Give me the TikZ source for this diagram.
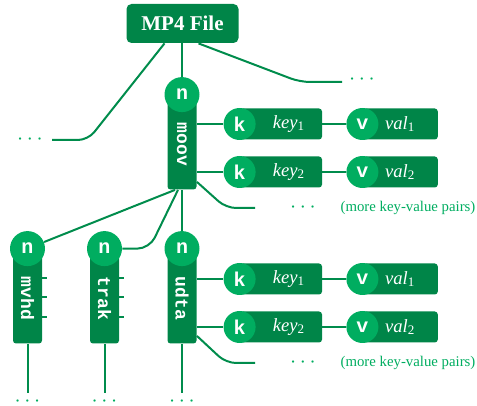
\documentclass[tikz,border=0pt]{standalone}
\usepackage{fontspec}
\setmainfont{Liberation Serif}
\setmonofont{Liberation Mono}
\usetikzlibrary{positioning}
\definecolor{boxgreen}{RGB}{0,133,72}
\definecolor{dotgreen}{RGB}{0,173,96}
\definecolor{linegreen}{RGB}{0,140,76}
\begin{document}
\begin{tikzpicture}[x=0.5pt,y=-0.5pt,
  conn/.style={draw=linegreen,line width=1pt},
  atom/.style={rectangle,rounded corners=1.5pt,fill=boxgreen,minimum width=14.5pt,minimum height=45pt,inner sep=0pt,text=white,font=\fontsize{9}{9}\ttfamily\bfseries},
  ncirc/.style={circle,fill=dotgreen,minimum size=17.5pt,inner sep=0pt,text=white,font=\fontsize{10}{10}\ttfamily\bfseries},
  kvcirc/.style={ncirc,minimum size=16pt},
  kvbox/.style={rectangle,rounded corners=1.5pt,fill=boxgreen,minimum height=15.5pt,inner sep=0pt,text=white,font=\fontsize{9.3}{10}\itshape},
  dots/.style={text=dotgreen,font=\fontsize{11}{11}\selectfont,inner sep=0pt},
  note/.style={text=dotgreen,font=\fontsize{7.4}{9}\selectfont,inner sep=0pt}]
\useasboundingbox (0,0) rectangle (477,406);

\node[rectangle,rounded corners=2.5pt,fill=boxgreen,minimum width=56pt,minimum height=19.5pt,text=white,font=\fontsize{10.5}{12}\bfseries] (mp4) at (182.5,23.5) {MP4 File};

% atoms
\node[atom] (moov) at (182,144.5) {\rotatebox{-90}{moov}};
\node[ncirc] (nmoov) at ([yshift=2.25pt]moov.north) {n};
\node[atom] (mvhd) at (27.5,298.5) {\rotatebox{-90}{mvhd}};
\node[ncirc] (nmvhd) at ([yshift=2.25pt]mvhd.north) {n};
\node[atom] (trak) at (104.5,298.5) {\rotatebox{-90}{trak}};
\node[ncirc] (ntrak) at ([yshift=2.25pt]trak.north) {n};
\node[atom] (udta) at (182,298.5) {\rotatebox{-90}{udta}};
\node[ncirc] (nudta) at ([yshift=2.25pt]udta.north) {n};

% top level
\coordinate (lmore) at (52,140);
\node[dots] (ldots) at (30,140) {$\cdots$};
\draw[conn,rounded corners=5pt] ([xshift=-9pt]mp4.south) -- ([xshift=18pt]lmore) -- (lmore);
\coordinate (rmore) at (342,82);
\node[dots] (rdots) at (362,80) {$\cdots$};
\draw[conn,rounded corners=5pt] ([xshift=8pt]mp4.south) -- ([xshift=-21pt]rmore) -- (rmore);
\draw[conn] (nmoov.north |- mp4.south) -- (nmoov.north);

% children of moov
\draw[conn] ([xshift=-3.5pt]moov.south) -- (nmvhd);
\draw[conn,rounded corners=6pt] ([xshift=-2pt]moov.south) -- ([xshift=13.5pt]ntrak.east) -- (ntrak.east);
\draw[conn] (moov.south) -- (nudta.north);

% key-value pairs
\foreach \grp/\r/\y in {moov/1/124,moov/2/172,udta/1/279,udta/2/327}{
  \node[kvbox,minimum width=41pt] (\grp key\r) at (281,\y) {\hspace{8pt}key\textsubscript{\upshape\r}};
  \node[kvcirc] (\grp k\r) at (\grp key\r.west) {k};
  \node[kvbox,minimum width=37.5pt,right=20pt of \grp key\r] (\grp val\r) {val\textsubscript{\upshape\r}};
  \node[kvcirc] (\grp v\r) at (\grp val\r.west) {v};
  \draw[conn] (\grp k\r.west -| \grp.east) -- (\grp k\r.west);
  \draw[conn] (\grp key\r.east) -- (\grp v\r.west);
}
\foreach \grp/\y in {moov/208,udta/363}{
  \coordinate (\grp more) at (255,\y);
  \node[dots] (\grp moredots) at (303,\y) {$\cdots$};
  \node[note] (\grp note) at (408,\y) {(more key-value pairs)};
  \draw[conn,rounded corners=5pt] ([yshift=4pt]\grp.south east) -- ([xshift=-14.5pt]\grp more) -- (\grp more);
}

% ticks and tails
\foreach \grp in {mvhd,trak}
  \foreach \t in {10.25,0.75,-9.25}
    \draw[conn,line width=0.7pt] ([yshift=\t pt]\grp.east) -- ++(2.5pt,0);
\foreach \grp in {mvhd,trak,udta}{
  \coordinate (\grp end) at ([yshift=-24.5pt]\grp.south);
  \node[dots] (\grp tail) at ([yshift=-29pt]\grp.south) {$\cdots$};
  \draw[conn] (\grp.south) -- (\grp end);
}
\end{tikzpicture}
\end{document}
